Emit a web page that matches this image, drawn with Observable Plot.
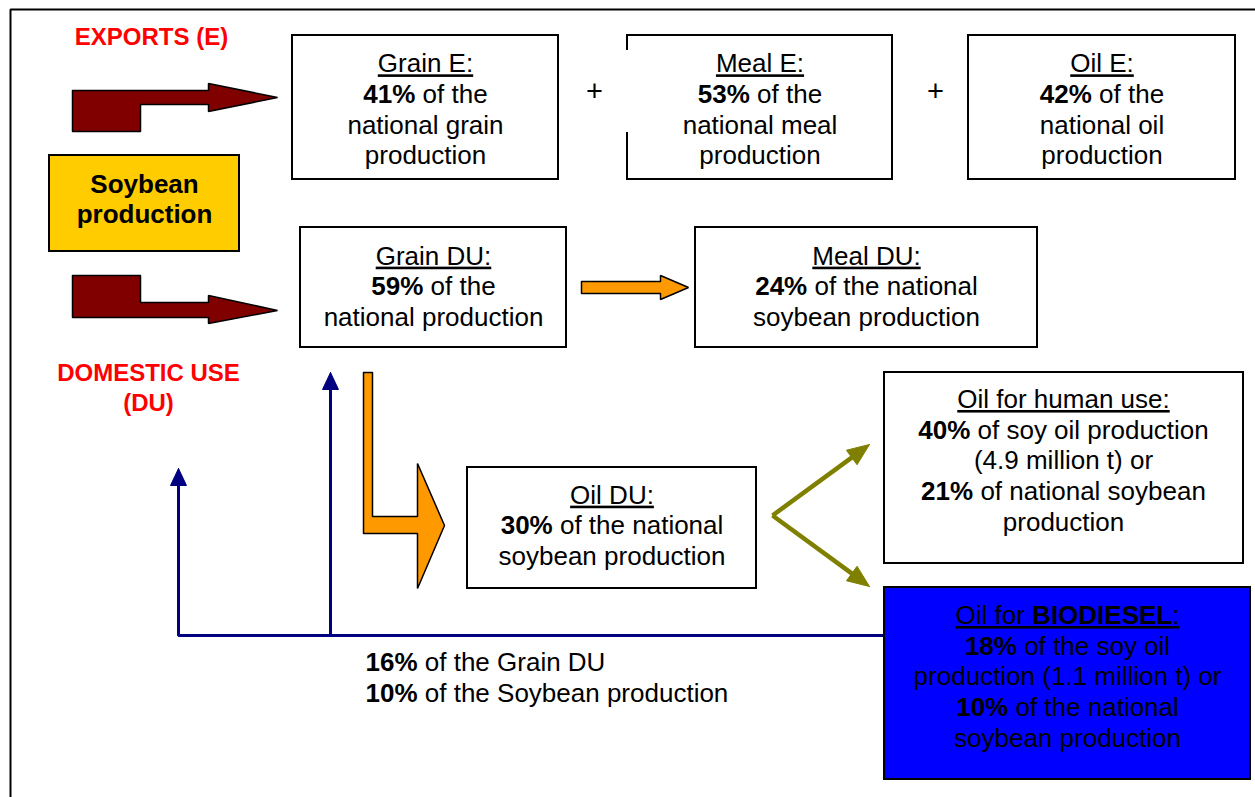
<!DOCTYPE html>
<html><head><meta charset="utf-8">
<script src="https://cdn.jsdelivr.net/npm/d3@7"></script>
<script src="https://cdn.jsdelivr.net/npm/@observablehq/plot@0.6"></script>
<style>
html,body{margin:0;padding:0;background:#fff;}
svg text{white-space:pre;}
</style>
</head><body><div id="chart"></div>
<script>
// ---------- DATA (text content of the diagram) ----------
const flowLabels = ["EXPORTS (E)", "DOMESTIC USE\n(DU)"];
const sourceLabel = "Soybean\nproduction";
const boxTitles = ["Grain E:", "Meal E:", "Oil E:", "Grain DU:", "Meal DU:", "Oil DU:", "Oil for human use:", "Oil for **BIODIESEL**:"];
const boxShares = ["41%", "53%", "42%", "59%", "24%", "30%", "40%", "18%"];
const boxBodies = [
  ["**41%** of the", "national grain", "production"],
  ["**53%** of the", "national meal", "production"],
  ["**42%** of the", "national oil", "production"],
  ["**59%** of the", "national production"],
  ["**24%** of the national", "soybean production"],
  ["**30%** of the national", "soybean production"],
  ["**40%** of soy oil production", "(4.9 million t) or", "**21%** of national soybean", "production"],
  ["**18%** of the soy oil", "production (1.1 million t) or", "**10%** of the national", "soybean production"]
];
const exportJoin = ["+", "+"];
const feedbackLines = ["**16%** of the Grain DU", "**10%** of the Soybean production"];

// ---------- LAYOUT (pixel geometry of the diagram) ----------
const W = 1255, H = 797;
const boxRects = [
  [292, 558, 35, 179], [627, 892, 35, 179], [968, 1235, 35, 179],
  [300, 566, 227, 347], [695, 1037, 227, 347], [467, 756, 467, 588],
  [884, 1243, 372, 563], [884, 1250, 587, 779]
];
const boxFills = ["#fff", "#fff", "#fff", "#fff", "#fff", "#fff", "#fff", "#0000ff"];
const boxTextPos = [[425, 108], [759.5, 108], [1101.5, 108], [433, 285], [866, 285], [611.5, 524], [1063, 459], [1067, 675]];
const sourceRect = [49, 239, 155, 251];
const maroonShapes = [
  [[72,90],[208,90],[208,83],[277,97],[208,111],[208,104],[140,104],[140,131],[72,131],[72,90]],
  [[72,275],[140,275],[140,302],[208,302],[208,295],[277,310],[208,323],[208,317],[72,317],[72,275]]
];
const orangeShapes = [
  [[581,281],[660,281],[660,275],[688,287],[660,299],[660,293],[581,293],[581,281]],
  [[363,372],[372,372],[372,516],[417,516],[417,463],[444,525],[417,588],[417,533],[363,533],[363,372]]
];
const navyPaths = [
  [[178,483],[178,635],[884,635]],
  [[330,387],[330,635]]
];
const navyHeads = [
  [[178,468],[186,485],[170,485],[178,468]],
  [[330,372],[338,389],[322,389],[330,372]]
];
const oliveArrows = [[[772,515],[869,444]], [[772,515],[869,586]]];

// ---------- BUILD ----------
const toPts = (shapes) => shapes.flatMap((s, id) => s.map(([x, y]) => ({x, y, id})));
const boxes = boxTitles.map((t, i) => ({
  x1: boxRects[i][0], x2: boxRects[i][1], y1: boxRects[i][2], y2: boxRects[i][3],
  fill: boxFills[i], tx: boxTextPos[i][0], ty: boxTextPos[i][1],
  share: boxShares[i],
  text: "__" + t + "__\n" + boxBodies[i].join("\n")
}));

// olive arrow shafts and filled heads
const headLen = 22, headHalf = 9;
const oliveLinks = [], oliveHeads = [];
oliveArrows.forEach(([[ax, ay], [bx, by]], id) => {
  const dx = bx - ax, dy = by - ay, L = Math.hypot(dx, dy);
  const ux = dx / L, uy = dy / L;
  const cx = bx - ux * headLen, cy = by - uy * headLen;
  oliveLinks.push({x1: ax, y1: ay, x2: cx + ux * 2, y2: cy + uy * 2});
  oliveHeads.push([[bx, by], [cx - uy * headHalf, cy + ux * headHalf], [cx + uy * headHalf, cy - ux * headHalf], [bx, by]]);
});

const font = "'Liberation Sans', Arial, sans-serif";
const fs = 26, lh = 1.18;

const chart = Plot.plot({
  width: W, height: H, margin: 0,
  x: {domain: [0, W], axis: null},
  y: {domain: [0, H], reverse: true, axis: null},
  style: {fontFamily: font, background: "white", overflow: "visible"},
  marks: [
    // outer frame (top and left)
    Plot.line([{x: 10, y: 797}, {x: 10, y: 9}, {x: 1255, y: 9}], {x: "x", y: "y", stroke: "black", strokeWidth: 2, strokeLinejoin: "miter"}),
    // navy feedback lines
    Plot.line(toPts(navyPaths), {x: "x", y: "y", z: "id", stroke: "#000080", strokeWidth: 3, strokeLinejoin: "miter", strokeLinecap: "butt"}),
    Plot.line(toPts(navyHeads), {x: "x", y: "y", z: "id", fill: "#000080", stroke: "#000080", strokeWidth: 1}),
    // olive split arrows
    Plot.link(oliveLinks, {x1: "x1", y1: "y1", x2: "x2", y2: "y2", stroke: "#808000", strokeWidth: 4.5, strokeLinecap: "butt"}),
    Plot.line(toPts(oliveHeads), {x: "x", y: "y", z: "id", fill: "#808000", stroke: "#808000", strokeWidth: 1}),
    // block arrows
    Plot.line(toPts(maroonShapes), {x: "x", y: "y", z: "id", fill: "#800000", stroke: "black", strokeWidth: 1.5, strokeLinejoin: "miter"}),
    Plot.line(toPts(orangeShapes), {x: "x", y: "y", z: "id", fill: "#ff9900", stroke: "black", strokeWidth: 1.5, strokeLinejoin: "miter"}),
    // boxes
    Plot.rect([{x1: sourceRect[0], x2: sourceRect[1], y1: sourceRect[2], y2: sourceRect[3]}], {x1: "x1", x2: "x2", y1: "y1", y2: "y2", fill: "#ffcc00", stroke: "black", strokeWidth: 2}),
    Plot.rect(boxes, {x1: "x1", x2: "x2", y1: "y1", y2: "y2", fill: "fill", stroke: "black", strokeWidth: 2}),
    Plot.ruleX([627], {y1: 50, y2: 132, stroke: "white", strokeWidth: 3}),
    // texts
    Plot.text(boxes, {x: "tx", y: "ty", text: "text", fontSize: fs, lineHeight: lh, fill: "black"}),
    Plot.text([sourceLabel], {x: 144, y: 198, text: d => d, fontSize: 26, fontWeight: "bold", lineHeight: 1.15, fill: "black"}),
    Plot.text([flowLabels[0]], {x: 151, y: 37, text: d => d, fontSize: 24, fontWeight: "bold", fill: "#ff0000"}),
    Plot.text([flowLabels[1]], {x: 148, y: 386, text: d => d, fontSize: 24, fontWeight: "bold", lineHeight: 1.25, fill: "#ff0000"}),
    Plot.text(exportJoin, {x: (d, i) => [594, 935][i], y: 91, text: d => d, fontSize: 29, fill: "black"}),
    Plot.text([feedbackLines.join("\n")], {x: 365, y: 676, text: d => d, textAnchor: "start", fontSize: fs, lineHeight: lh, fill: "black"})
  ]
});

// rich text: **bold**, __underline__
function richify(svg) {
  svg.querySelectorAll("text").forEach(t => {
    const spans = Array.from(t.querySelectorAll("tspan"));
    const targets = spans.length ? spans : [t];
    targets.forEach(el => {
      const s = el.textContent;
      if (!/\*\*|__/.test(s)) return;
      el.textContent = "";
      let bold = false, under = false;
      s.split(/(\*\*|__)/).forEach(tok => {
        if (tok === "**") { bold = !bold; return; }
        if (tok === "__") { under = !under; return; }
        if (!tok) return;
        const sp = document.createElementNS("http://www.w3.org/2000/svg", "tspan");
        if (bold) sp.setAttribute("font-weight", "bold");
        if (under) sp.setAttribute("text-decoration", "underline");
        sp.textContent = tok;
        el.appendChild(sp);
      });
    });
  });
}
richify(chart);
document.getElementById("chart").appendChild(chart);
</script></body></html>
